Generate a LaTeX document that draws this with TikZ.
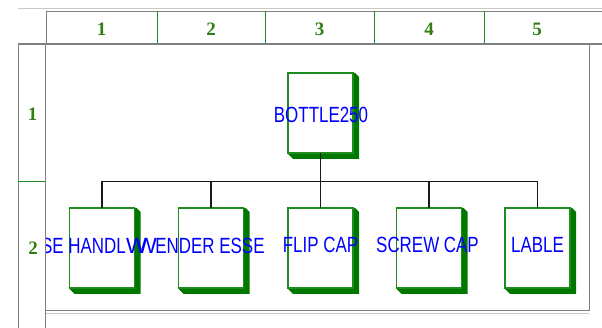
\documentclass[tikz,border=0pt]{standalone}
\usepackage{fontspec}
\setmainfont{Liberation Sans}
\newfontfamily\hdrfont{Liberation Serif}
\usetikzlibrary{calc,backgrounds}
\definecolor{boxgreen}{RGB}{30,140,30}
\definecolor{shadegreen}{RGB}{0,120,0}
\definecolor{hdrgreen}{RGB}{50,125,20}
\definecolor{framegray}{RGB}{128,128,128}
\definecolor{lightgray}{RGB}{200,200,200}
\definecolor{txtblue}{RGB}{0,0,255}
\newcommand\nar[1]{\scalebox{0.77}[1]{#1}}
\newcommand\dropshade[1]{%
  \fill[shadegreen] (#1.north east) -- ($(#1.north east)+(2,0)$) -- ($(#1.north east)+(6,4)$)
    -- ($(#1.south east)+(6,6)$) -- ($(#1.south west)+(5,6)$) -- ($(#1.south west)+(0,1)$)
    -- (#1.south east) -- cycle;}
\begin{document}
\begin{tikzpicture}[x=1pt,y=-1pt,
  partbox/.style={draw=boxgreen, line width=1.3pt, fill=white, minimum width=65pt, minimum height=80pt, inner sep=0pt, outer sep=0pt},
  lbl/.style={text=txtblue, font=\fontsize{22}{22}\selectfont, inner sep=0pt},
  hdr/.style={text=hdrgreen, font=\hdrfont\bfseries\fontsize{19}{19}\selectfont, inner sep=0pt},
  conn/.style={draw=black!90, line width=1.3pt},
  gridline/.style={draw=framegray, line width=1.6pt},
  thinline/.style={draw=framegray, line width=0.9pt},
  sepline/.style={draw=boxgreen, line width=1pt},
  ]
\useasboundingbox (0,0) rectangle (602,328);
% frame of the sheet
\draw[draw=lightgray, line width=1pt] (18,9) -- (602,9);
\draw[thinline] (46,11) -- (602,11);
\draw[thinline] (46,11) -- (46,44);
\draw[gridline] (18,44) -- (602,44);
\draw[thinline] (18,44) -- (18,328);
\draw[gridline] (45.5,44) -- (45.5,328);
\draw[thinline] (589,44) -- (589,310) -- (45.5,310);
\draw[draw=lightgray, line width=0.8pt] (46,313) -- (589,313);
\foreach \xx in {157,265,374,484} \draw[sepline] (\xx,11.5) -- (\xx,43);
\draw[sepline] (18,182) -- (45,182);
% header labels
\node[hdr] (c1) at (101.5,29) {1};
\node[hdr] (c2) at (211,29) {2};
\node[hdr] (c3) at (319.5,29) {3};
\node[hdr] (c4) at (429,29) {4};
\node[hdr] (c5) at (537,29) {5};
\node[hdr] (r1) at (32.5,114) {1};
\node[hdr] (r2) at (33,248) {2};
% boxes
\node[partbox] (bottle) at (320.5,113) {};
\node[partbox] (b1) at (102,248) {};
\node[partbox] (b2) at (211,248) {};
\node[partbox] (b3) at (320.5,248) {};
\node[partbox] (b4) at (429,248) {};
\node[partbox] (b5) at (537.5,248) {};
\begin{scope}[on background layer]
\dropshade{bottle}
\dropshade{b1}
\dropshade{b2}
\dropshade{b3}
\dropshade{b4}
\dropshade{b5}
\end{scope}
% connectors
\coordinate (bus) at (320.5,181.5);
\draw[conn] (bottle.south) -- (bus);
\draw[conn] (b1.north |- bus) -- (b5.north |- bus);
\foreach \b in {b1,b2,b3,b4,b5} \draw[conn] (\b.north |- bus) -- (\b.north);
% labels
\node[lbl] (tbottle) at (321,114.5) {\nar{BOTTLE250}};
\begin{scope}
\clip (46,44) rectangle (589,310);
\node[lbl, anchor=east] (t1) at (126,246) {\nar{SE HANDL}};
\node[lbl, anchor=east] (t1a) at (147,246) {W};
\node[lbl, anchor=east] (t1b) at (157,246) {W};
\end{scope}
\node[lbl] (t2) at (210,246) {\nar{ENDER ESSE}};
\node[lbl] (t3) at (320.5,245) {\nar{FLIP CAP}};
\node[lbl] (t4) at (427.5,245) {\nar{SCREW CAP}};
\node[lbl] (t5) at (537.5,245) {\nar{LABLE}};
\end{tikzpicture}
\end{document}
